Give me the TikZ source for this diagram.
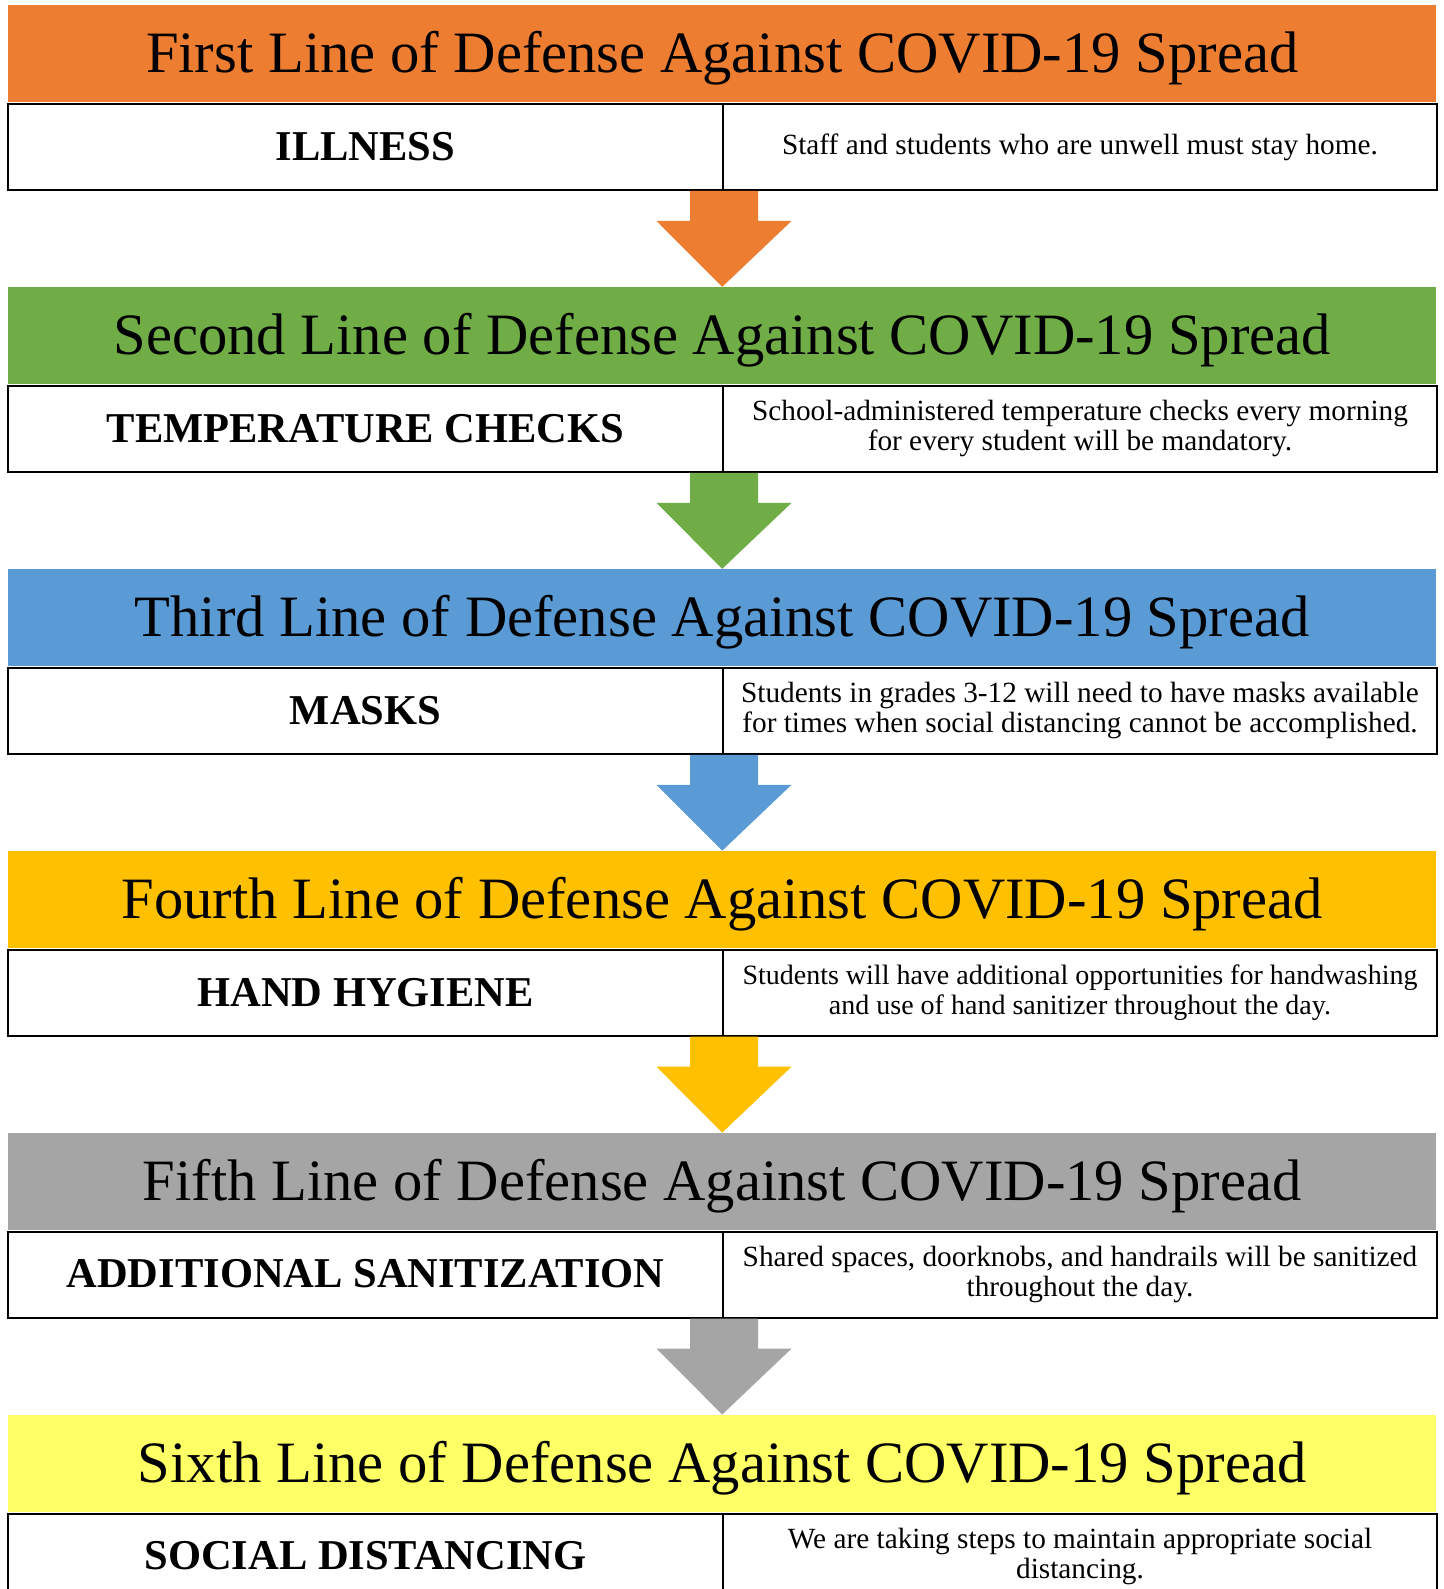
\documentclass[tikz,border=0pt]{standalone}
\usepackage{fontspec}
\setmainfont{Liberation Serif}
\usetikzlibrary{calc}
\definecolor{corange}{HTML}{ED7D31}
\definecolor{cgreen}{HTML}{70AD47}
\definecolor{cblue}{HTML}{5B9BD5}
\definecolor{cgold}{HTML}{FFC000}
\definecolor{cgray}{HTML}{A5A5A5}
\definecolor{cyellow}{HTML}{FFFF66}
\tikzset{
  band/.style={rectangle, inner sep=0pt, minimum width=1428pt, minimum height=97pt, anchor=north west, text height=48pt, text depth=10pt, font=\fontsize{58.6}{70}\selectfont},
  labbox/.style={rectangle, draw, line width=2pt, fill=white, inner sep=0pt, minimum width=715pt, minimum height=86pt, anchor=north west, text height=36pt, text depth=9.4pt, font=\bfseries\fontsize{42.5}{50}\selectfont},
  descbox/.style={rectangle, draw, line width=2pt, fill=white, inner sep=0pt, minimum width=714pt, minimum height=86pt, anchor=north west, align=center, font=\fontsize{29.3}{30}\selectfont},
  smalldesc/.style={font=\fontsize{28}{30}\selectfont},
}
\newcommand\covsec[7][]{%
  \node[band, fill=#4] (b#2) at (8,#3) {#5 Line of Defense Against COVID-19 Spread};
  \node[labbox] (l#2) at (7,#3+98) {#6};
  \node[descbox,#1] (d#2) at (722,#3+98) {#7};
}
\newcommand\covarrow[3]{%
  \fill[#3] ($(l#1.south east)+(-34,0)$) -- ($(l#1.south east)+(-34,30)$)
    -- ($(l#1.south east)+(-67.5,30)$) -- (b#2.north)
    -- ($(l#1.south east)+(67.5,30)$) -- ($(l#1.south east)+(34,30)$)
    -- ($(l#1.south east)+(34,0)$) -- cycle;
}
\begin{document}
\begin{tikzpicture}[x=1pt,y=-1pt]
\useasboundingbox (0,0) rectangle (1443,1589);
\clip (0,0) rectangle (1443,1589);
\fill[white] (0,0) rectangle (1443,1589);
\covsec{1}{5}{corange}{First}{ILLNESS}{Staff and students who are unwell must stay home.}
\covsec{2}{286.9}{cgreen}{Second}{TEMPERATURE CHECKS}{School-administered temperature checks every morning\\for every student will be mandatory.}
\covsec{3}{568.8}{cblue}{Third}{MASKS}{Students in grades 3-12 will need to have masks available\\for times when social distancing cannot be accomplished.}
\covsec[smalldesc]{4}{850.7}{cgold}{Fourth}{HAND HYGIENE}{Students will have additional opportunities for handwashing\\and use of hand sanitizer throughout the day.}
\covsec{5}{1132.6}{cgray}{Fifth}{ADDITIONAL SANITIZATION}{Shared spaces, doorknobs, and handrails will be sanitized\\throughout the day.}
\covsec{6}{1414.5}{cyellow}{Sixth}{SOCIAL DISTANCING}{We are taking steps to maintain appropriate social\\distancing.}
\covarrow{1}{2}{corange}
\covarrow{2}{3}{cgreen}
\covarrow{3}{4}{cblue}
\covarrow{4}{5}{cgold}
\covarrow{5}{6}{cgray}
\end{tikzpicture}
\end{document}
